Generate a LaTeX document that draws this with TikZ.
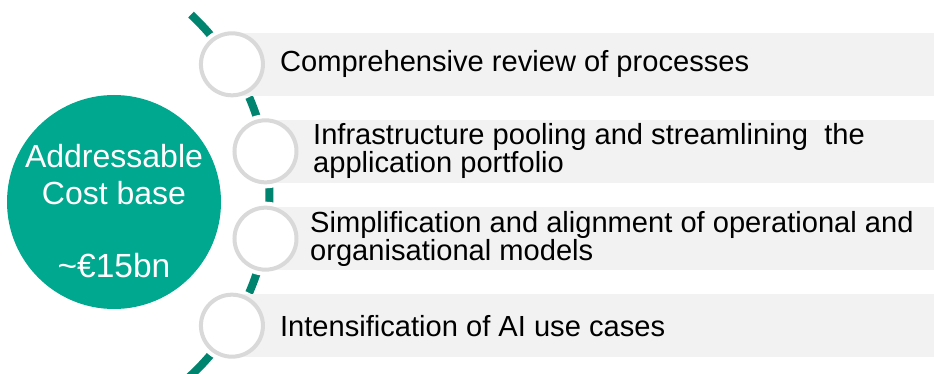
\documentclass[tikz,border=0pt]{standalone}
\usepackage{fontspec}
\setmainfont{Liberation Sans}
\usetikzlibrary{positioning}

\definecolor{costteal}{HTML}{00A88F}
\definecolor{arcteal}{HTML}{00846F}
\definecolor{ringgray}{HTML}{D9D9D9}
\definecolor{barfill}{HTML}{F2F2F2}

\pgfdeclarelayer{back}
\pgfdeclarelayer{mid}
\pgfsetlayers{back,mid,main}

\begin{document}
\begin{tikzpicture}[
	x=1pt, y=-1pt,
	cost/.style={
		circle,
		fill=costteal,
		minimum size=214pt,
		inner sep=0pt
		},
	costtext/.style={
		text=white,
		align=center,
		inner sep=0pt,
		font=\fontsize{32}{36.7}\selectfont
	},
	dot/.style={
		circle,
		fill=white,
		draw=ringgray,
		line width=4pt,
		minimum size=62pt,
		inner sep=0pt
	},
	bar/.style={
		rectangle,
		fill=barfill,
		minimum height=63pt,
		inner sep=0pt,
		anchor=west
	},
	item/.style={
		align=left,
		inner sep=0pt,
		font=\fontsize{29.1}{25}\selectfont
	},
	arcline/.style={draw=arcteal, line width=8pt}
]
\useasboundingbox (0,0) rectangle (934,374);

% Cost base
\node [cost] (Cost) at (114,202) {};
\node [costtext] (CostText) at ([yshift=-9pt]Cost.center) {Addressable\\Cost base\\[36.7pt]{\fontsize{33.5}{36.7}\selectfont\textasciitilde€15bn}};

% Steps on the arc
\coordinate (Hub) at (22.8,195);
\node [dot] (Review) at ([shift={(-32:246.6)}]Hub) {};
\node [dot] (Pooling) at ([shift={(-10.2:246.6)}]Hub) {};
\node [dot] (Models) at ([shift={(10.2:246.6)}]Hub) {};
\node [dot] (AI) at ([shift={(32:246.6)}]Hub) {};

% Bars
\begin{pgfonlayer}{mid}
\node [bar, minimum width=702.1pt] (ReviewBar) at (Review.center) {};
\node [bar, minimum width=668.5pt] (PoolingBar) at (Pooling.center) {};
\node [bar, minimum width=668.5pt] (ModelsBar) at (Models.center) {};
\node [bar, minimum width=702.1pt] (AIBar) at (AI.center) {};
\end{pgfonlayer}

% Texts
\node [item, right=48pt of ReviewBar.west] (ReviewText) {Comprehensive review of processes};
\node [item, right=47.5pt of PoolingBar.west] (PoolingText) {Infrastructure pooling and streamlining\ \ the\\application portfolio};
\node [item, right=44.5pt of ModelsBar.west] (ModelsText) {Simplification and alignment of operational and\\organisational models};
\node [item, right=48pt of AIBar.west] (AIText) {Intensification of AI use cases};

% Arc behind the steps
\begin{pgfonlayer}{back}
\draw [arcline] (Hub) ++(-47:246.6) arc [start angle=-47, end angle=50, radius=246.6];
\foreach \s in {Review, Pooling, Models, AI}
	\fill [white] (\s) circle (37);
\end{pgfonlayer}

\end{tikzpicture}
\end{document}
